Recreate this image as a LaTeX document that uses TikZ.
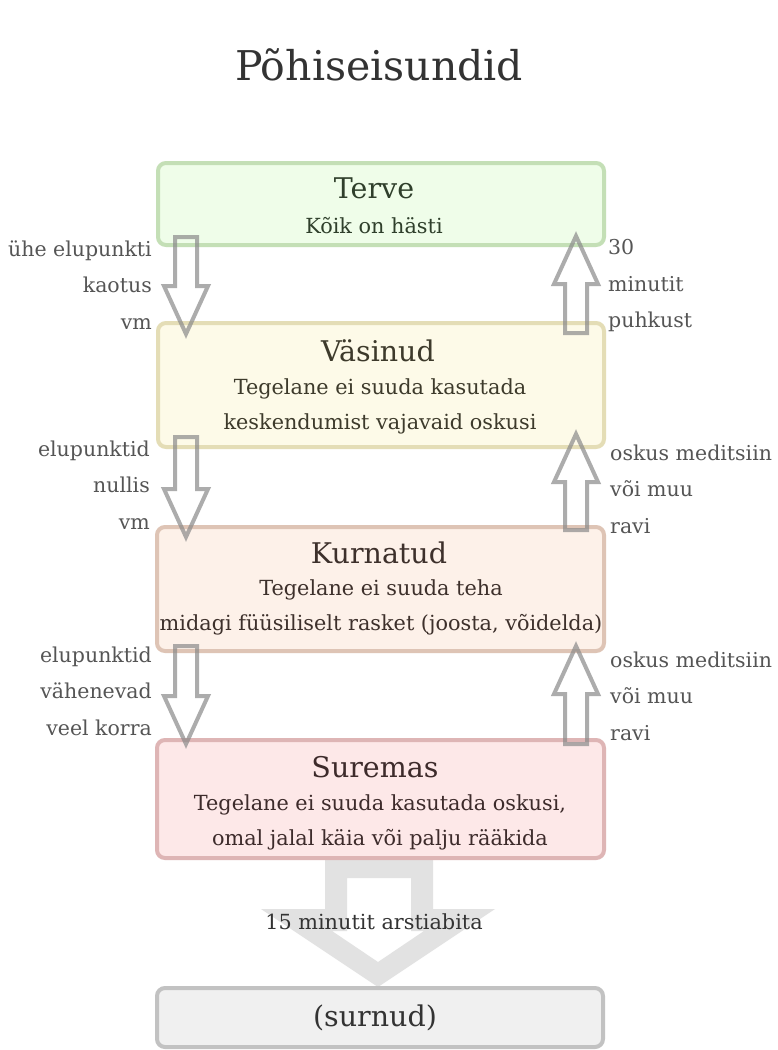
\documentclass[tikz,border=0pt]{standalone}
\usepackage{fontspec}
\setmainfont{DejaVu Serif}
\usetikzlibrary{calc}
\definecolor{tgreenF}{HTML}{EFFDE9}\definecolor{tgreenD}{HTML}{C4DFB6}\definecolor{tgreenT}{HTML}{2F3F2B}
\definecolor{tyelF}{HTML}{FDFAE8}\definecolor{tyelD}{HTML}{E4DDB6}\definecolor{tyelT}{HTML}{3D3A2B}
\definecolor{torF}{HTML}{FDF1E9}\definecolor{torD}{HTML}{DEC4B5}\definecolor{torT}{HTML}{3D302B}
\definecolor{tredF}{HTML}{FDE8E8}\definecolor{tredD}{HTML}{DEB5B5}\definecolor{tredT}{HTML}{3D2B2B}
\definecolor{tgrayF}{HTML}{F0F0F0}\definecolor{tgrayD}{HTML}{C2C2C2}
\definecolor{lblC}{HTML}{555555}
\definecolor{titC}{HTML}{333333}
\definecolor{arrC}{HTML}{8A8A8A}
\definecolor{bigC}{HTML}{E2E2E2}
\tikzset{
  statebox/.style={draw, line width=4pt, rounded corners=8pt, inner sep=0pt},
  sttitle/.style={inner sep=0pt, font=\fontsize{28.5}{32}\selectfont},
  stdesc/.style={inner sep=0pt, align=center, font=\fontsize{20.8}{35.5}\selectfont},
  sidelbl/.style={inner sep=0pt, text=lblC, font=\fontsize{20.5}{36.5}\selectfont},
  barrow/.style={draw=arrC, draw opacity=0.7, line width=4pt, line join=miter},
}
\newcommand\blockarr[2]{%
  \draw[barrow] let \p1=(#1), \p2=(#2), \n1={sign(\y2-\y1)} in
    ({\x1-11pt},\y1) -- ({\x1-11pt},{\y2-\n1*48pt}) -- ({\x1-22pt},{\y2-\n1*48pt}) --
    (\x1,\y2) -- ({\x1+22pt},{\y2-\n1*48pt}) -- ({\x1+11pt},{\y2-\n1*48pt}) --
    ({\x1+11pt},\y1) -- cycle;}
\begin{document}
\begin{tikzpicture}[x=1pt,y=-1pt]
\useasboundingbox (0,0) rectangle (777,1050);
\fill[white] (0,0) rectangle (777,1050);

\node[inner sep=0pt, text=titC, font=\fontsize{41}{45}\selectfont] (title) at (379,65) {Põhiseisundid};

% big arrow (behind boxes)
\fill[bigC, even odd rule] (325,853) -- (433,853) -- (433,909) -- (495,909) -- (378,987) -- (261,909) -- (325,909) -- cycle
  (347,878) -- (411,878) -- (411,931) -- (424,931) -- (378,962) -- (332,931) -- (347,931) -- cycle;

% boxes
\node[statebox, draw=tgreenD, fill=tgreenF, minimum width=446pt, minimum height=82pt] (terve) at (381,204) {};
\node[statebox, draw=tyelD, fill=tyelF, minimum width=446pt, minimum height=124pt] (vasinud) at (381,385) {};
\node[statebox, draw=torD, fill=torF, minimum width=447pt, minimum height=124pt] (kurnatud) at (380.5,589) {};
\node[statebox, draw=tredD, fill=tredF, minimum width=447pt, minimum height=118pt] (suremas) at (380.5,799) {};
\node[statebox, draw=tgrayD, fill=tgrayF, minimum width=446pt, minimum height=59pt] (surnud) at (380,1017.5) {};

% box texts
\node[sttitle, text=tgreenT] (terveT) at (374,188) {Terve};
\node[stdesc, text=tgreenT] (terveD) at (374,226) {Kõik on hästi};
\node[sttitle, text=tyelT] (vasinudT) at (378,351) {Väsinud};
\node[stdesc, text=tyelT] (vasinudD) at (380,406.5) {Tegelane ei suuda kasutada\\keskendumist vajavaid oskusi};
\node[sttitle, text=torT] (kurnatudT) at (379,553) {Kurnatud};
\node[stdesc, text=torT] (kurnatudD) at (381,607.5) {Tegelane ei suuda teha\\midagi füüsiliselt rasket (joosta, võidelda)};
\node[sttitle, text=tredT] (suremasT) at (375,767) {Suremas};
\node[stdesc, text=tredT] (suremasD) at (380,822.5) {Tegelane ei suuda kasutada oskusi,\\omal jalal käia või palju rääkida};
\node[sttitle, text=titC] (surnudT) at (375,1018) {(surnud)};

\node[inner sep=0pt, text=titC, font=\fontsize{20.8}{24}\selectfont] (abi) at (374,922) {15 minutit arstiabita};

% side labels
\node[sidelbl, align=right, anchor=east] (l1) at (152,285) {ühe elupunkti\\kaotus\\vm};
\node[sidelbl, align=right, anchor=east] (l2) at (150,485) {elupunktid\\nullis\\vm};
\node[sidelbl, align=right, anchor=east] (l3) at (152,691) {elupunktid\\vähenevad\\veel korra};
\node[sidelbl, align=left, anchor=west] (r1) at (608,286) {30\\minutit\\puhkust};
\node[sidelbl, align=left, anchor=west] (r2) at (610,489) {oskus meditsiin\\või muu\\ravi};
\node[sidelbl, align=left, anchor=west] (r3) at (610,696) {oskus meditsiin\\või muu\\ravi};

% small block arrows
\coordinate (d1a) at (186,237); \coordinate (d1b) at (186,334);
\coordinate (d2a) at (186,437); \coordinate (d2b) at (186,537);
\coordinate (d3a) at (186,646); \coordinate (d3b) at (186,744);
\coordinate (u1a) at (576,333); \coordinate (u1b) at (576,236);
\coordinate (u2a) at (576,530); \coordinate (u2b) at (576,434);
\coordinate (u3a) at (576,744); \coordinate (u3b) at (576,646);
\blockarr{d1a}{d1b}
\blockarr{d2a}{d2b}
\blockarr{d3a}{d3b}
\blockarr{u1a}{u1b}
\blockarr{u2a}{u2b}
\blockarr{u3a}{u3b}
\end{tikzpicture}
\end{document}
